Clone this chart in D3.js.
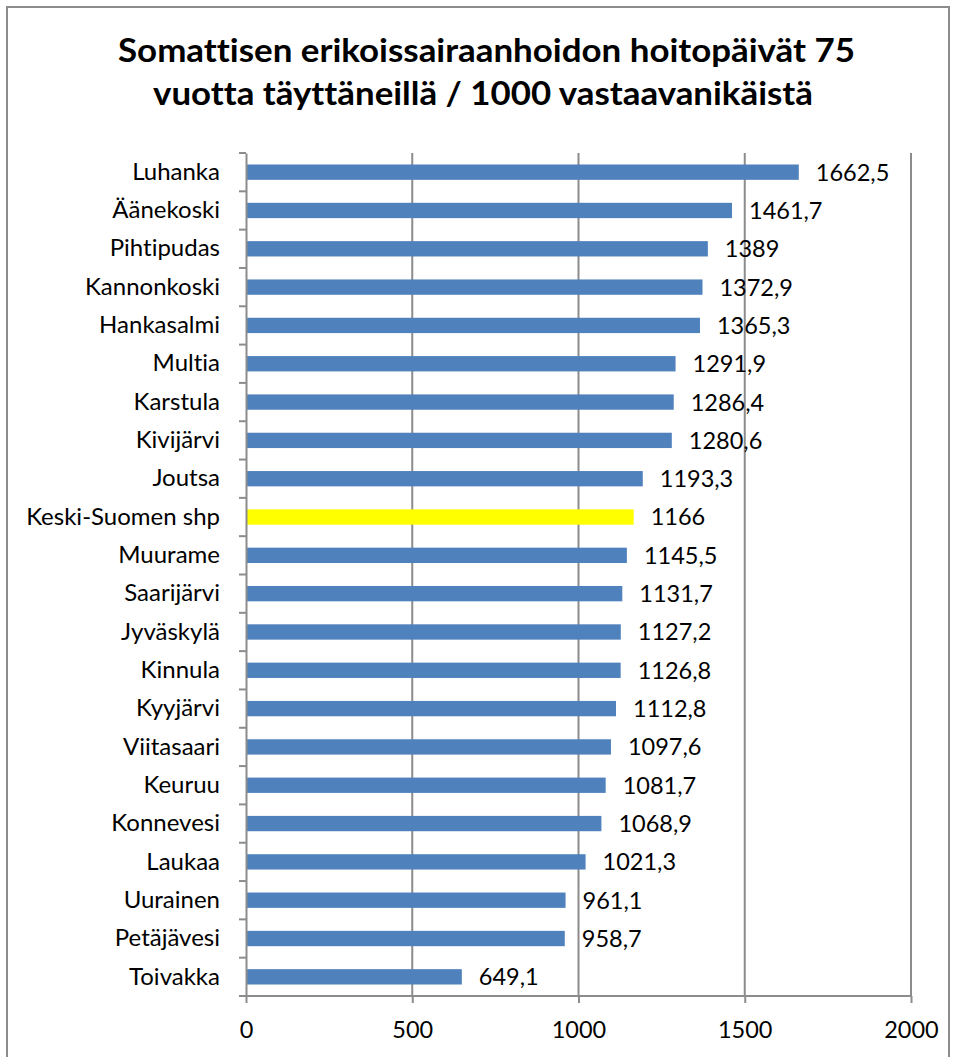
<!DOCTYPE html>
<html>
<head>
<meta charset="utf-8">
<script src="https://cdn.jsdelivr.net/npm/d3@7"></script>
<style>
  html, body { margin: 0; padding: 0; background: #fff; }
  svg { display: block; }
  text { font-variant-ligatures: none; font-feature-settings: "liga" 0; }
</style>
</head>
<body>
<svg id="chart" width="957" height="1057"></svg>
<script>
const titleLines = ["Somattisen erikoissairaanhoidon hoitopäivät 75", "vuotta täyttäneillä / 1000 vastaavanikäistä"];
const categories = ["Luhanka", "Äänekoski", "Pihtipudas", "Kannonkoski", "Hankasalmi", "Multia", "Karstula", "Kivijärvi", "Joutsa", "Keski-Suomen shp", "Muurame", "Saarijärvi", "Jyväskylä", "Kinnula", "Kyyjärvi", "Viitasaari", "Keuruu", "Konnevesi", "Laukaa", "Uurainen", "Petäjävesi", "Toivakka"];
const values = [1662.5, 1461.7, 1389, 1372.9, 1365.3, 1291.9, 1286.4, 1280.6, 1193.3, 1166, 1145.5, 1131.7, 1127.2, 1126.8, 1112.8, 1097.6, 1081.7, 1068.9, 1021.3, 961.1, 958.7, 649.1];
const highlight = ["Keski-Suomen shp"];
const xTicks = [0, 500, 1000, 1500, 2000];

const svg = d3.select("#chart");
const FONT = "Lato, 'Open Sans', sans-serif";
const BLUE = "#4F81BD", YELLOW = "#FFFF00", GRID = "#8C8C8C";

// outer chart border
svg.append("rect").attr("x", 7).attr("y", 7).attr("width", 942).attr("height", 1100)
  .attr("fill", "none").attr("stroke", "#8C8C8C").attr("stroke-width", 2);

const plot = { left: 246, right: 911, top: 153, bottom: 996 };
const x = d3.scaleLinear().domain([0, 2000]).range([plot.left, plot.right]);
const y = d3.scaleBand().domain(categories).range([plot.top, plot.bottom]).paddingInner(0.6).paddingOuter(0.3);

// title
const titleStyle = [{ cx: 486.5, y: 62, len: 737 }, { cx: 483, y: 105, len: 660 }];
titleLines.forEach((t, i) => {
  svg.append("text").attr("text-anchor", "middle")
    .attr("font-family", FONT).attr("font-weight", "bold").attr("font-size", 32.5).attr("fill", "#000")
    .attr("x", titleStyle[i].cx).attr("y", titleStyle[i].y)
    .attr("textLength", titleStyle[i].len).attr("lengthAdjust", "spacingAndGlyphs")
    .text(t);
});

// gridlines
svg.append("g").selectAll("line").data(xTicks.slice(1)).join("line")
  .attr("x1", d => x(d)).attr("x2", d => x(d))
  .attr("y1", plot.top).attr("y2", plot.bottom)
  .attr("stroke", GRID).attr("stroke-width", 2);

// bars
svg.append("g").selectAll("rect").data(categories).join("rect")
  .attr("x", x(0))
  .attr("y", d => y(d))
  .attr("width", (d, i) => x(values[i]) - x(0))
  .attr("height", y.bandwidth())
  .attr("fill", d => highlight.includes(d) ? YELLOW : BLUE);

// value labels
const fmt = v => String(v).replace(".", ",");
svg.append("g").selectAll("text").data(categories).join("text")
  .attr("x", (d, i) => x(values[i]) + 17)
  .attr("y", d => y(d) + y.bandwidth() / 2)
  .attr("dy", "0.36em")
  .attr("font-family", FONT).attr("font-size", 23.5).attr("fill", "#000")
  .text((d, i) => fmt(values[i]));

// y axis
const yAxisBand = d3.scaleBand().domain(categories).range([plot.top, plot.bottom]);
const yAxis = svg.append("g").attr("transform", `translate(${plot.left},0)`)
  .call(d3.axisLeft(yAxisBand).tickSize(0).tickPadding(26));
yAxis.select(".domain").attr("stroke", GRID).attr("stroke-width", 2);
yAxis.selectAll("text").attr("font-family", FONT).attr("font-size", 24).attr("fill", "#000");
// category boundary ticks
const bounds = categories.map(c => yAxisBand(c)).concat([plot.bottom]);
yAxis.append("g").selectAll("line").data(bounds).join("line")
  .attr("x1", -7).attr("x2", 0).attr("y1", d => d).attr("y2", d => d)
  .attr("stroke", GRID).attr("stroke-width", 2);

// x axis
const xAxis = svg.append("g").attr("transform", `translate(0,${plot.bottom})`)
  .call(d3.axisBottom(x).tickValues(xTicks).tickSize(7).tickPadding(18).tickFormat(d3.format("d")));
xAxis.select(".domain").attr("stroke", GRID).attr("stroke-width", 2).attr("d", `M${plot.left},0H${plot.right}`);
xAxis.selectAll(".tick line").attr("stroke", GRID).attr("stroke-width", 2);
xAxis.selectAll("text").attr("font-family", FONT).attr("font-size", 23.5).attr("fill", "#000");
</script>
</body>
</html>
